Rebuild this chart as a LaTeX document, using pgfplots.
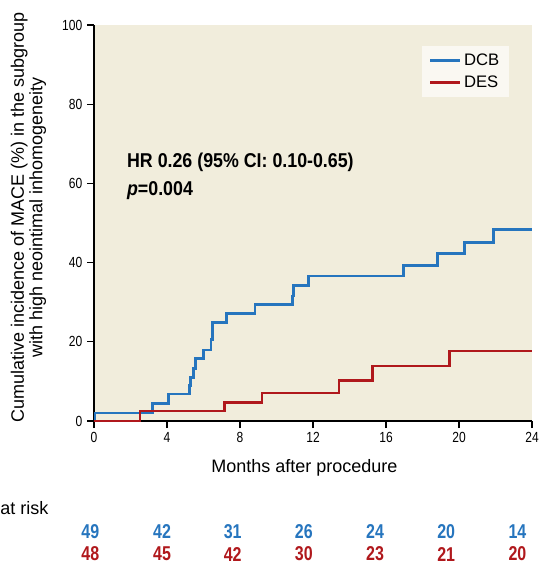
\documentclass[border=0pt]{standalone}
\usepackage{fontspec}
\setmainfont{Liberation Sans}
\newfontfamily\condfont{Liberation Sans}[FakeStretch=0.8]
\newfontfamily\tickfont{Liberation Sans}[FakeStretch=0.82]
\newfontfamily\hrfont{Liberation Sans}[FakeStretch=0.89]
\usepackage{pgfplots}
\pgfplotsset{compat=1.18}
\definecolor{bgcream}{RGB}{241,237,220}
\definecolor{legbg}{RGB}{250,248,242}
\definecolor{dcbblue}{RGB}{38,117,190}
\definecolor{desred}{RGB}{176,24,28}
\tikzset{risk/.style={font=\condfont\bfseries\fontsize{15}{18}\selectfont}}
\begin{document}
\begin{tikzpicture}
\useasboundingbox (0,0) rectangle (403.5pt,424.5pt);
\clip (0,0) rectangle (403.5pt,424.5pt);
\begin{axis}[
  at={(70.5pt,108.75pt)}, anchor=south west,
  scale only axis, width=328.5pt, height=297pt,
  xmin=0, xmax=24, ymin=0, ymax=100,
  axis x line*=bottom, axis y line*=left,
  axis line style={line width=1.5pt, -},
  axis background/.style={fill=bgcream},
  xtick={0,4,...,24}, ytick={0,20,...,100},
  tick style={line width=1pt, black},
  tick align=outside, major tick length=5.25pt,
  /pgf/number format/assume math mode=true,
  ticklabel style={font=\tickfont\fontsize{11}{13}\selectfont},
  legend style={at={(0.947,0.948)}, anchor=north east, draw=none, fill=legbg,
    font=\fontsize{12.5}{14}\selectfont, row sep=2pt, inner xsep=5pt, inner ysep=4pt},
  legend cell align=left,
  legend image code/.code={\draw[#1] (0pt,0pt) -- (22.5pt,0pt);},
  clip=false,
]
\addplot[const plot, dcbblue, line width=2pt] coordinates {
(0,0) (0.05,2.0) (3.2,4.5) (4.07,6.8) (5.22,9.0) (5.30,11.0) (5.44,13.3) (5.55,15.7)
(5.99,17.9) (6.41,20.5) (6.49,24.8) (7.27,27.1) (8.82,29.5) (10.87,31.6) (10.94,34.2)
(11.76,36.6) (16.95,39.3) (18.81,42.3) (20.29,45.1) (21.88,48.3) (24,48.3)};
\addlegendentry{DCB}
\addplot[const plot, desred, line width=2pt] coordinates {
(0,0) (2.52,2.5) (7.14,4.6) (9.2,7.1) (13.42,10.3) (15.25,13.9) (19.47,17.7) (24,17.7)};
\addlegendentry{DES}

\node[anchor=base west, inner sep=0pt, font=\hrfont\bfseries\fontsize{15}{18}\selectfont] at (axis cs:1.80,64.06) {HR 0.26 (95\% CI: 0.10-0.65)};
\node[anchor=base west, inner sep=0pt, font=\hrfont\bfseries\fontsize{15}{18}\selectfont] at (axis cs:1.80,57.0) {\itshape p\upshape=0.004};

\node[anchor=base, font=\fontsize{13.5}{16}\selectfont] at (axis cs:11.53,-12.9) {Months after procedure};
\node[rotate=90, font=\fontsize{13.5}{16}\selectfont] at (axis cs:-4.10,51.3) {Cumulative incidence of MACE (\%) in the subgroup};
\node[rotate=90, font=\fontsize{13.5}{16}\selectfont] at (axis cs:-3.08,51.3) {with high neointimal inhomogeneity};
\node[anchor=west, inner sep=0pt, font=\fontsize{13.5}{16}\selectfont] at (axis cs:-5.15,-22) {at risk};

\node[risk, text=dcbblue] at (axis cs:-0.2,-28.0) {49};
\node[risk, text=dcbblue] at (axis cs:3.73,-28.0) {42};
\node[risk, text=dcbblue] at (axis cs:7.6,-28.0) {31};
\node[risk, text=dcbblue] at (axis cs:11.5,-28.0) {26};
\node[risk, text=dcbblue] at (axis cs:15.4,-28.0) {24};
\node[risk, text=dcbblue] at (axis cs:19.3,-28.0) {20};
\node[risk, text=dcbblue] at (axis cs:23.2,-28.0) {14};
\node[risk, text=desred] at (axis cs:-0.2,-33.6) {48};
\node[risk, text=desred] at (axis cs:3.73,-33.6) {45};
\node[risk, text=desred] at (axis cs:7.6,-33.6) {42};
\node[risk, text=desred] at (axis cs:11.5,-33.6) {30};
\node[risk, text=desred] at (axis cs:15.4,-33.6) {23};
\node[risk, text=desred] at (axis cs:19.3,-33.6) {21};
\node[risk, text=desred] at (axis cs:23.2,-33.6) {20};
\end{axis}
\end{tikzpicture}
\end{document}
